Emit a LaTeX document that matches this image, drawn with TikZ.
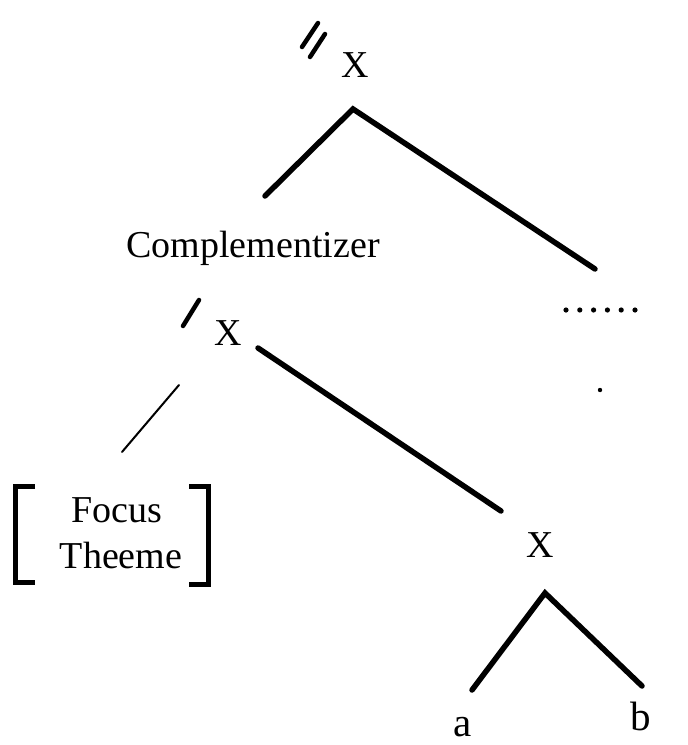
\documentclass[tikz,border=0pt]{standalone}
\usepackage{fontspec}
\setmainfont{Liberation Serif}
\usetikzlibrary{calc}

\begin{document}
\begin{tikzpicture}[
  x=1pt, y=-1pt,
  lbl/.style={anchor=base, inner sep=0pt, font=\fontsize{38}{46}\selectfont},
  leaf/.style={lbl, font=\fontsize{41}{48}\selectfont},
  branch/.style={line width=5.5pt, line cap=round},
  thinbranch/.style={line width=2pt, line cap=round},
  tick/.style={line width=4.5pt, line cap=round},
  bracket/.style={line width=5pt, line cap=butt}
]
\useasboundingbox (0,0) rectangle (688,745);

% labels
\node[lbl] (top) at (355,77) {X};
\node[lbl] (comp) at (253,257) {Complementizer};
\node[lbl] (mid) at (228,345) {X};
\node[lbl] (low) at (540,557) {X};
\node[leaf] (leafa) at (463,736) {a};
\node[leaf] (leafb) at (641,730) {b};
\node[lbl] (focus) at (117,522) {Focus};
\node[lbl] (theeme) at (121,568) {Theeme};

% branch ends
\coordinate (topapex) at (353,109);
\coordinate (topleft) at (265,196);
\coordinate (topright) at (595,269);
\coordinate (midstart) at (258,348);
\coordinate (midend) at (501,511);
\coordinate (specstart) at (179,385);
\coordinate (specend) at (122,452);
\coordinate (lowapex) at (545,593);
\coordinate (lowleft) at (472,690);
\coordinate (lowright) at (642,686);

\draw[branch] (topleft) -- (topapex) -- (topright);
\draw[branch] (midstart) -- (midend);
\draw[thinbranch] (specstart) -- (specend);
\draw[branch] (lowleft) -- (lowapex) -- (lowright);

% slashes
\draw[tick] (302,47) -- (318,23);
\draw[tick] (310,57) -- (325,34);
\draw[tick] (183,326) -- (199,300);

% brackets round the feature node
\draw[bracket] (35,486) -- (15,486) -- (15,582) -- (35,582);
\draw[bracket] (189,486) -- (208,486) -- (208,584) -- (189,584);

% ellipsis
\foreach \i in {0,...,5}
  \fill (566+\i*13.8,310) circle (2.6);
\fill (600,390) circle (2.2);
\end{tikzpicture}
\end{document}
